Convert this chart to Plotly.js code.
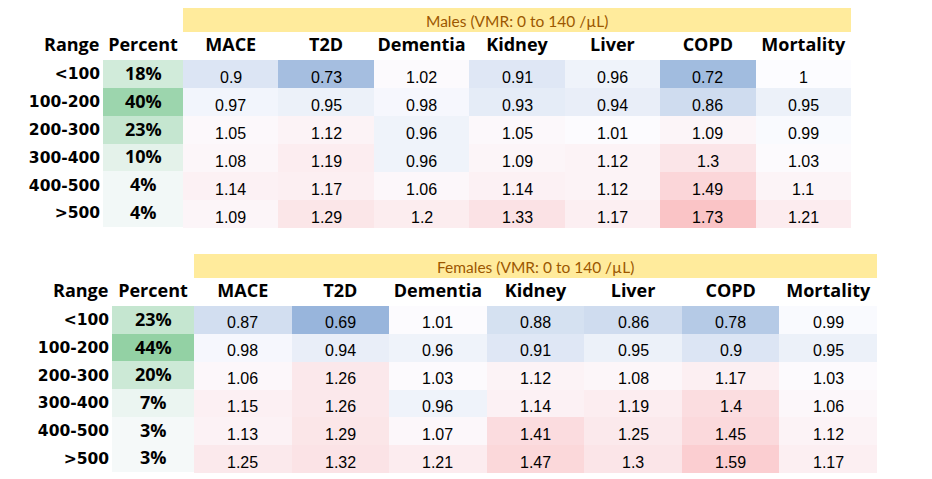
<!DOCTYPE html>
<html>
<head>
<meta charset="utf-8">
<script src="https://cdn.plot.ly/plotly-3.0.1.min.js"></script>
<style>html,body{margin:0;padding:0;background:#fff;}#chart{width:932px;height:479px;}</style>
</head>
<body>
<div id="chart"></div>
<script>
// ---------- data ----------
const ranges = ['<100', '100-200', '200-300', '300-400', '400-500', '>500'];
const diseases = ['MACE', 'T2D', 'Dementia', 'Kidney', 'Liver', 'COPD', 'Mortality'];
const pctHeader = ['Percent'];
const rangeHeader = 'Range';
const malesTitle = 'Males (VMR: 0 to 140 /µL)';
const femalesTitle = 'Females (VMR: 0 to 140 /µL)';

const malesPct = [18, 40, 23, 10, 4, 4];
const femalesPct = [23, 44, 20, 7, 3, 3];

// rows: <100, 100-200, 200-300, 300-400, 400-500, >500 ; columns: diseases
const malesLt100   = [0.9, 0.73, 1.02, 0.91, 0.96, 0.72, 1];
const males100_200 = [0.97, 0.95, 0.98, 0.93, 0.94, 0.86, 0.95];
const males200_300 = [1.05, 1.12, 0.96, 1.05, 1.01, 1.09, 0.99];
const males300_400 = [1.08, 1.19, 0.96, 1.09, 1.12, 1.3, 1.03];
const males400_500 = [1.14, 1.17, 1.06, 1.14, 1.12, 1.49, 1.1];
const malesGt500   = [1.09, 1.29, 1.2, 1.33, 1.17, 1.73, 1.21];

const femalesLt100   = [0.87, 0.69, 1.01, 0.88, 0.86, 0.78, 0.99];
const females100_200 = [0.98, 0.94, 0.96, 0.91, 0.95, 0.9, 0.95];
const females200_300 = [1.06, 1.26, 1.03, 1.12, 1.08, 1.17, 1.03];
const females300_400 = [1.15, 1.26, 0.96, 1.14, 1.19, 1.4, 1.06];
const females400_500 = [1.13, 1.29, 1.07, 1.41, 1.25, 1.45, 1.12];
const femalesGt500   = [1.25, 1.32, 1.21, 1.47, 1.3, 1.59, 1.17];

// ---------- styling ----------
const maleRR = [malesLt100, males100_200, males200_300, males300_400, males400_500, malesGt500];
const femaleRR = [femalesLt100, females100_200, females200_300, females300_400, females400_500, femalesGt500];

const W = 932, H = 479;
const px = v => v / W;
const py = v => 1 - v / H;

const rrScale = [[0, '#5A8AC6'], [(1 - 0.5) / (2.9 - 0.5), '#FCFCFF'], [1, '#F8696B']];
const pctScale = [[0, '#FCFCFF'], [1, '#63BE7B']];

const headFont = {family: 'Open Sans, DejaVu Sans, sans-serif', size: 18, color: '#000', weight: 700};
const rangeFont = {family: 'DejaVu Sans, sans-serif', size: 15.5, color: '#000', weight: 700};
const valFont = {family: 'Liberation Sans, Arial, sans-serif', size: 16, color: '#000'};
const bannerFont = {family: 'Lato, sans-serif', size: 15.5, color: '#9C5700'};

const tables = [
  {pct: malesPct, rr: maleRR, title: malesTitle, xp: 'x', yp: 'y', xr: 'x2', yr: 'y2',
   xPct: [px(103), px(183)], xRR: [px(183), px(851)], yDom: [py(228), py(60)], banner: [8, 32]},
  {pct: femalesPct, rr: femaleRR, title: femalesTitle, xp: 'x3', yp: 'y3', xr: 'x4', yr: 'y4',
   xPct: [px(112), px(194)], xRR: [px(194), px(877)], yDom: [py(473.3), py(306)], banner: [254, 278]}
];

const data = [];
const annotations = [];
const shapes = [];
const layout = {
  width: W, height: H, margin: {l: 0, r: 0, t: 0, b: 0},
  paper_bgcolor: '#fff', plot_bgcolor: '#fff', showlegend: false,
  annotations: annotations, shapes: shapes
};

function axName(id, kind) { const n = id.slice(1); return kind + 'axis' + (n === '' ? '' : n); }

tables.forEach(t => {
  data.push({
    type: 'heatmap', x: pctHeader, y: ranges, z: t.pct.map(v => [v]),
    xaxis: t.xp, yaxis: t.yp, colorscale: pctScale, zmin: 0, zmax: 64,
    showscale: false, hoverinfo: 'skip', xgap: 0, ygap: 0
  });
  data.push({
    type: 'heatmap', x: diseases, y: ranges, z: t.rr,
    xaxis: t.xr, yaxis: t.yr, colorscale: rrScale, zmin: 0.5, zmax: 2.9,
    showscale: false, hoverinfo: 'skip', xgap: 0, ygap: 0
  });

  const xpA = axName(t.xp, 'x'), ypA = axName(t.yp, 'y');
  const xrA = axName(t.xr, 'x'), yrA = axName(t.yr, 'y');
  const common = {showgrid: false, zeroline: false, showline: false, ticks: '', fixedrange: true};
  layout[xpA] = Object.assign({}, common, {domain: t.xPct, anchor: t.yp, side: 'top', type: 'category',
    tickfont: headFont, ticklabelstandoff: 4});
  layout[ypA] = Object.assign({}, common, {domain: t.yDom, anchor: t.xp, type: 'category',
    autorange: 'reversed', tickfont: rangeFont, ticklabelstandoff: 2});
  layout[xrA] = Object.assign({}, common, {domain: t.xRR, anchor: t.yr, side: 'top', type: 'category',
    tickfont: headFont, ticklabelstandoff: 4});
  layout[yrA] = Object.assign({}, common, {domain: t.yDom, anchor: t.xr, type: 'category',
    autorange: 'reversed', showticklabels: false});

  // percent values
  t.pct.forEach((v, i) => {
    annotations.push({xref: t.xp, yref: t.yp, x: pctHeader[0], y: ranges[i], text: v + '%',
      showarrow: false, font: headFont, yshift: 1});
  });
  // RR values
  t.rr.forEach((row, i) => row.forEach((v, j) => {
    annotations.push({xref: t.xr, yref: t.yr, x: diseases[j], y: ranges[i], text: String(v),
      showarrow: false, font: valFont, yshift: -3});
  }));
  // "Range" header
  annotations.push({xref: t.xp + ' domain', yref: t.yp + ' domain', x: 0, y: 1, xanchor: 'right',
    yanchor: 'bottom', xshift: -2, yshift: 2, text: rangeHeader, showarrow: false, font: headFont});
  // banner
  shapes.push({type: 'rect', xref: t.xr + ' domain', x0: 0, x1: 1, yref: 'paper',
    y0: py(t.banner[1]), y1: py(t.banner[0]), fillcolor: '#FFEB9C', line: {width: 0}, layer: 'below'});
  annotations.push({xref: t.xr + ' domain', x: 0.5, yref: 'paper', y: py((t.banner[0] + t.banner[1]) / 2 + 1),
    yanchor: 'middle', text: t.title, showarrow: false, font: bannerFont});
});

Plotly.newPlot('chart', data, layout, {staticPlot: true, displayModeBar: false});
</script>
</body>
</html>
